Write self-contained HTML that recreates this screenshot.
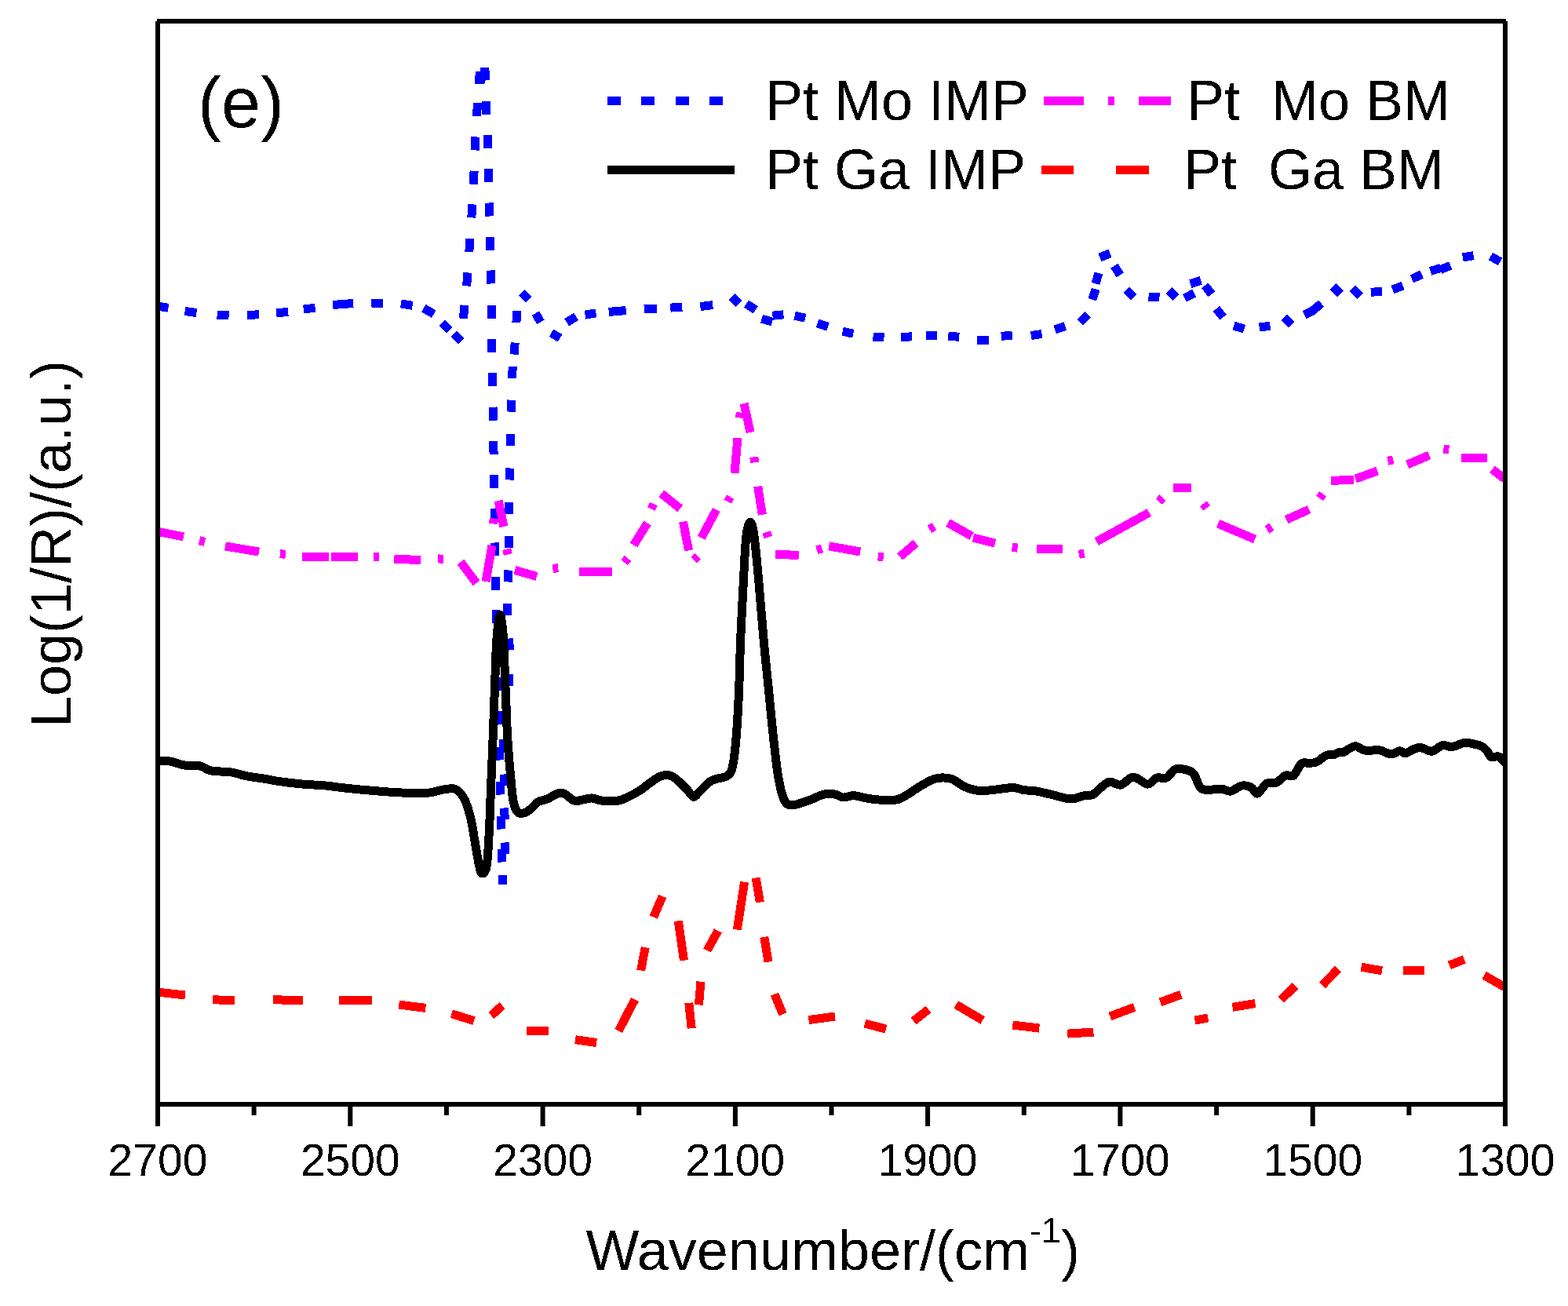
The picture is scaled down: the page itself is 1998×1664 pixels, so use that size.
<!DOCTYPE html>
<html><head><meta charset="utf-8"><title>Log(1/R) spectra</title>
<style>html,body{margin:0;padding:0;background:#fff;}body{width:1998px;height:1664px;overflow:hidden;}svg{display:block;}text{font-family:"Liberation Sans", Arial, sans-serif;fill:#000;}</style></head><body>
<svg width="1998" height="1664" viewBox="0 0 1998 1664">
<rect x="0" y="0" width="1998" height="1664" fill="#fff"/>
<defs><clipPath id="pc"><rect x="201" y="27" width="1716" height="1380"/></clipPath><filter id="bin" x="-2%" y="-10%" width="104%" height="120%"><feComponentTransfer><feFuncA type="discrete" tableValues="0 1"/></feComponentTransfer></filter></defs>
<g clip-path="url(#pc)" fill="none" stroke-linejoin="round" shape-rendering="crispEdges">
<path stroke="#0000ff" stroke-width="11" d="M199.6 389.8L214.4 392.4M235.6 396.5L250.4 398.5M276.6 401.2L291.6 401.8M315.2 401.4L330.2 400.8M352.1 398.9L367.1 397.3M386.8 394.1L401.6 392.1M424.2 388.5L450.2 386.5M473.4 386L488.4 386.2M510.9 386.9L525.7 389.3M539.8 392.7L552.8 400.1M563.4 411.5L572.6 420.7M578.5 425.5L587.7 434.7M590.4 405.9L592 388.9M594.6 364.4L596 347.4M597.8 321.1L599 304.1M600.8 277.4L601.8 260.4M603.3 234.7L604.1 217.7M605.2 191.4L606 174.4M607.5 148.2L608.5 131.2M619.3 128.8L619.9 145.8M621 172L621.6 189M622.3 215.3L622.7 232.3M623.5 258.5L623.9 275.5M624.2 301.7L624.6 318.7M625.1 344.5L625.5 361.5M626.1 388.8L626.3 405.8M626.5 431.7L626.7 448.7M627.1 474.8L627.5 491.8M628 518.6L628.4 535.6M628.7 561.9L629.1 578.9M629.7 605.1L629.9 622.1M630.1 647.9L630.3 664.9M630.8 691.5L631 708.5M631.5 734.8L631.7 751.8M632 777.1L632.4 794.1M633.3 820.5L633.7 837.5M634.3 863.5L634.7 880.5M635.3 906.5L635.7 923.5M636.6 951.5L637 968.5M637.6 995.5L638 1012.5M638.4 1039.5L638.6 1056.5M639.1 1081.5L639.3 1098.5M640.2 1115L640.2 1127M643.6 1088.5L643.4 1073.5M643.1 1044.5L642.9 1029.5M642.4 1001.5L642.2 986.5M641.4 957.5L641.8 942.5M644.4 913.5L645.6 898.5M648.1 873.5L648.9 858.5M649.2 828.5L648.8 813.5M646.8 784.2L646.6 769.2M647.2 741.5L647.4 726.5M648.1 697.9L648.3 682.9M648.3 654.6L648.5 639.6M649.6 611.5L650 596.5M650.5 567.9L650.9 552.9M651.4 524.6L651.8 509.6M652.5 481.9L653.3 466.9M655 451.6L656.2 436.6M657.9 410.9L658.9 395.9M664.7 372.9L673.9 382.1M682.4 399.1L688.9 410.3M702.5 424.2L713.7 430.8M722.1 410.8L734.1 403.4M745.6 401.2L759.4 398.8M775.7 397.4L797.7 395.6M820.8 394L836.8 393M854.3 392.1L869.3 391.3M892.4 390.6L908.2 388.6M932.3 377.8L941.5 387M951 387.2L962.8 394.8M970.6 406.1L984 410.1M984.4 402.2L998.4 400.8M1012.6 402.2L1026.2 405.2M1041.7 411.9L1055.1 416.3M1073.7 422.2L1087.3 425.2M1112.5 429L1126.5 430M1148.2 429.3L1162.2 428.9M1180.2 427.5L1194.2 427.5M1208.2 428L1222.2 429.4M1244.8 433.8L1259.8 433.6M1275.9 428.4L1289.9 427M1313.8 427.5L1327.6 425.5M1344.2 420L1357.4 415.4M1376.4 410.6L1386.4 400.8M1391.8 381.8L1396.2 368.4M1396.1 361.4L1399.9 348M1401.5 328L1414.5 322.8M1419.8 338.7L1427.4 350.5M1435.4 369.5L1444.6 378.7M1463.5 378.6L1477.5 378.8M1489.5 369.9L1498.7 379.1M1509.3 379.9L1521.7 373.5M1516.8 361.6L1530.2 357.4M1535.3 363.8L1543.9 374.8M1549.8 393.3L1558.6 404.1M1572.1 415.1L1585.5 419.1M1604.7 417L1618.5 415.2M1636.3 404.5L1645.5 413.7M1662 401.1L1674.6 395.1M1672.9 395.5L1683.7 386.7M1698.7 365.1L1707.9 374.3M1723.4 367.2L1733.2 377M1747 372.4L1761 371M1774.4 369L1787.6 364M1799 355.5L1811.6 349.5M1822.6 345.5L1836 341.3M1835.4 343.6L1848.4 338.4M1863.9 328L1877.7 325.6M1899.4 326.5L1911.6 333.5"/>
<path fill="#0000ff" stroke="none" d="M612 86H623L623.8 92V102H619L617.5 106.5H605V101L606 91H612Z"/>
<path stroke="#ff00ff" stroke-width="11" d="M200 677L234 684M254.1 688.8L260.9 690.4M287 696L330 703M356.9 705.6L363.9 706.4M385.2 709.7L419.2 710M422.2 709.5L456.3 710M475.8 709.5L482.8 709.9M502.3 712L536.3 713.7M557.9 711.9L564.9 712.3M587 716L607 743M619 741L627 695M628.5 667.5L629.5 660.5M635 638L642 671M645.6 699.6L647.4 706.4M656 726.5L684 734.5M704.3 724.5L711.3 723.7M737.8 728L780.2 728M795.6 716.7L800 711.3M807.4 694.5L825 666.5M829.9 648.5L832.9 642.1M842.7 628.8L866.7 648M870.4 664.6L877.6 701.4M884.4 713.5L889.4 708.5M893.6 685.4L912.9 649.4M927.3 639.2L930.5 633M936 602.9L940 558.1M942.4 532.4L943.6 525.6M948 514L956.1 550.9M960.7 582.3L961.7 589.3M965.7 619.7L971.3 655.8M976.6 678.1L978.8 684.7M988.1 706.2L1017.7 707.5M1040.9 700.8L1047.5 698.8M1056.2 695.8L1096.2 703M1118.8 709L1125.8 709.8M1146.7 709.4L1167 692M1184.4 674.4L1190.4 670.6M1208 666.1L1238.1 683.1M1240.1 685.1L1268.1 692.1M1289.6 697.2L1296.6 698.2M1321.2 699.1L1353.8 699.1M1374.8 706.4L1381.6 705M1397.2 690.1L1464.3 653.1M1476.9 639L1481.7 634M1495.3 621L1518.4 621M1533.3 641.7L1537.5 647.3M1552 667.1L1599.1 687.1M1614.5 675L1620.5 671.2M1639.1 662.1L1668.1 649.1M1681.5 634.9L1685.7 629.3M1696.2 612.5L1725.2 611.1M1727.2 610.1L1755.2 600M1768.4 587.3L1775.2 585.9M1793.3 592L1821.3 580M1839.4 572.1L1846.4 572.7M1862.3 583.4L1895.4 583.4M1901.4 598L1917.4 610.1"/>
<path stroke="#000" stroke-width="11" stroke-linecap="round" d="M201 969C203.7 969.2 211.3 969 217 970C222.7 971 228.7 974 235 975C241.3 976 249.3 974.8 255 976C260.7 977.2 262.3 980.7 269 982C275.7 983.3 287.3 982.8 295 984C302.7 985.2 307.7 987.6 315 989C322.3 990.4 332.3 991.4 339 992.5C345.7 993.6 347.3 994.4 355 995.5C362.7 996.6 375 998.1 385 999C395 999.9 406.7 1000.2 415 1001C423.3 1001.8 427.7 1002.7 435 1003.5C442.3 1004.3 449 1005.1 459 1006C469 1006.9 484 1008.2 495 1009C506 1009.8 516.3 1010.3 525 1010.5C533.7 1010.7 540.3 1010.8 547 1010C553.7 1009.2 559.8 1006.8 565 1006C570.2 1005.2 574.8 1004.2 578.5 1005C582.2 1005.8 584.5 1008.2 587 1011C589.5 1013.8 591.4 1016.7 593.5 1022C595.6 1027.3 597.9 1034.5 599.9 1043C601.9 1051.5 603.4 1063 605.2 1073C607 1083 609.1 1096.3 610.6 1103C612.1 1109.7 612.8 1113 614.4 1113C616 1113 618.7 1112.2 620.2 1103C621.7 1093.8 622.5 1074.3 623.4 1058C624.3 1041.7 624.7 1024.5 625.5 1005C626.3 985.5 627.2 964.2 628.1 941C629 917.8 630 887.3 630.8 866C631.6 844.7 631.9 826.8 633 813C634.1 799.2 635.8 783.5 637.2 783.5C638.6 783.5 640.4 799.2 641.5 813C642.6 826.8 642.7 844.7 643.6 866C644.5 887.3 645.5 919.7 646.8 941C648 962.3 649.9 980.5 651.1 994C652.4 1007.5 652.9 1015.2 654.3 1022C655.7 1028.8 657.3 1032.4 659.6 1034.7C661.9 1037 665.4 1036.4 668.2 1035.7C671.1 1035 673.9 1032.7 676.7 1030.4C679.6 1028.1 681.8 1024 685.3 1021.9C688.8 1019.8 693.8 1019.5 698 1017.7C702.2 1015.9 707.3 1012 710.8 1010.9C714.3 1009.8 715.3 1009.7 718.8 1011.2C722.3 1012.7 727.9 1018.8 731.6 1020.1C735.3 1021.5 737.5 1019.8 741.2 1019.3C744.9 1018.8 749.7 1016.8 754 1016.9C758.3 1017 761.3 1019.6 766.9 1020.1C772.5 1020.6 781.8 1021 787.7 1020.1C793.6 1019.2 797.3 1016.8 802.1 1014.5C806.9 1012.2 812 1009.4 816.5 1006.4C821 1003.4 825 999.7 829.3 996.8C833.6 993.9 837.8 990.2 842.1 988.8C846.4 987.4 851 987.2 855 988.5C859 989.8 862.7 993.8 866.2 996.8C869.7 999.8 872.9 1003.3 875.8 1006.4C878.7 1009.5 881.1 1015 883.8 1015.3C886.5 1015.6 888.3 1011.2 891.8 1008C895.3 1004.8 900.9 998.7 904.6 996C908.3 993.3 910.6 993.2 914.2 992C917.8 990.8 923 991.2 926.1 988.9C929.2 986.6 931.2 985.9 933.1 978.3C935 970.7 936.4 958.8 937.8 943.2C939.2 927.6 940.4 906 941.4 884.5C942.4 863 942.7 837.7 943.7 814.2C944.7 790.8 946 765.3 947.2 743.8C948.4 722.3 949.2 698.3 950.7 685.2C952.2 672.1 954.3 665.2 956.1 665.2C957.9 665.2 959.5 672.1 961.3 685.2C963.1 698.3 965.1 722.3 967.1 743.8C969.1 765.3 970.9 790.8 973 814.2C975.1 837.7 977.9 863 980 884.5C982.1 906 983.9 925.6 985.9 943.2C987.9 960.8 989.6 977.6 991.8 990.1C993.9 1002.6 996.1 1012.2 998.8 1018.2C1001.5 1024.2 1003 1025.7 1008.2 1026C1013.4 1026.3 1023 1022.3 1030 1020C1037 1017.7 1044.3 1013.3 1050 1012C1055.7 1010.7 1060 1011.3 1064 1012C1068 1012.7 1070 1015.7 1074 1016C1078 1016.3 1083 1013.5 1088 1013.7C1093 1013.9 1098.7 1016.1 1104 1017C1109.3 1017.9 1114 1018.6 1120 1019C1126 1019.4 1134.7 1020.2 1140 1019.5C1145.3 1018.8 1146.6 1017.9 1152 1015C1157.4 1012.1 1165.5 1005.8 1172.2 1002C1178.9 998.2 1185.5 993.6 1192.2 992C1198.9 990.4 1206.2 990.7 1212.2 992.4C1218.2 994.1 1222.9 999.6 1228.2 1002C1233.5 1004.4 1238.9 1006.2 1244.2 1007C1249.5 1007.8 1255 1007.3 1260.3 1007C1265.6 1006.7 1271 1005.6 1276.3 1005C1281.6 1004.4 1287.6 1003.3 1292.3 1003.6C1297 1003.9 1299.6 1005.9 1304.3 1006.6C1309 1007.3 1314.3 1007 1320.3 1008C1326.3 1009 1332.9 1010.8 1340.3 1012.5C1347.7 1014.2 1357.7 1017.8 1364.4 1018C1371.1 1018.2 1375.7 1014.9 1380.4 1014C1385.1 1013.1 1388.8 1014.1 1392.4 1012.5C1396 1010.9 1398.4 1006.8 1402 1004.1C1405.6 1001.4 1409.7 996.8 1414 996.1C1418.3 995.4 1423 1001.1 1428 1000.1C1433 999.1 1438.4 990.3 1444.1 990.1C1449.8 989.9 1457.1 998.9 1462.1 999.1C1467.1 999.3 1470.1 992.4 1474.1 991.1C1478.1 989.8 1482.1 993 1486.1 991.1C1490.1 989.2 1493.8 981.7 1498.1 980C1502.4 978.3 1508.3 980 1512.1 981C1515.9 982 1518.1 982.1 1521.1 986C1524.1 989.9 1526.6 1000.8 1530.1 1004.1C1533.6 1007.5 1537.8 1005.9 1542.2 1006.1C1546.6 1006.3 1551.9 1004.8 1556.2 1005.1C1560.5 1005.4 1563.9 1008.8 1568.2 1008.1C1572.5 1007.4 1577.9 1001.9 1582.2 1001.1C1586.5 1000.3 1590.9 1001.4 1594.2 1003.1C1597.5 1004.8 1598.9 1011.9 1602.2 1011.1C1605.5 1010.3 1610.2 1000.4 1614.2 998.1C1618.2 995.8 1622.2 998.8 1626.2 997.1C1630.2 995.4 1634.5 989.6 1638.2 988.1C1641.9 986.6 1645 990.6 1648.3 988.1C1651.6 985.6 1655.2 975.6 1658.3 973C1661.4 970.4 1664.2 972.4 1667 972.2C1669.8 972 1672.8 972.2 1675 971.8C1677.2 971.3 1677.8 970.9 1680 969.5C1682.2 968.1 1685.7 964.8 1688 963.5C1690.3 962.2 1692 961.8 1694 961.5C1696 961.2 1698 962 1700 961.5C1702 961 1704 959 1706 958.5C1708 958 1710 959.2 1712 958.5C1714 957.8 1715.4 955.8 1718 954.5C1720.6 953.2 1724.5 950.7 1727.5 950.8C1730.5 950.9 1733.6 954.1 1736 955C1738.4 955.9 1738.3 956.1 1742 956.3C1745.7 956.5 1753.3 955.2 1758.4 956C1763.5 956.8 1768.2 960.9 1772.4 961C1776.6 961.1 1780.5 957 1783.6 956.8C1786.7 956.6 1787.5 960.1 1790.8 959.6C1794.1 959.1 1800.1 954.7 1803.6 953.6C1807.1 952.5 1808.1 952.2 1811.6 952.8C1815.1 953.4 1820.1 957.7 1824.5 957.2C1828.9 956.7 1833.8 950.5 1838.1 949.6C1842.4 948.7 1845.4 952.1 1850.1 951.6C1854.8 951.1 1861.4 947 1866.1 946.4C1870.8 945.8 1874.4 947.2 1878.1 948C1881.8 948.8 1885.7 949.7 1888.5 951.2C1891.3 952.7 1893 954.6 1894.9 956.8C1896.8 959 1897.8 963.2 1899.7 964.4C1901.6 965.6 1904.2 964 1906.1 964C1908 964 1909.1 963.2 1910.9 964.4C1912.7 965.6 1916 969.9 1917 971"/>
<path stroke="#ff0000" stroke-width="11" d="M200 1264L236 1268M271.1 1273.6L299.1 1275M348.2 1273.6L386.2 1275M432.2 1275L473.9 1274.4M508.3 1280L542.3 1284.4M575.4 1291.7L604 1300.6M626 1294L640 1281M670.5 1313.4L698.5 1313.4M733 1324.6L760.2 1328.6M788.2 1313.4L809 1273.4M816.6 1236.5L822.2 1207.2M832.7 1168.5L844.2 1142M864.3 1173.3L871.5 1223.7M877.8 1277.8L881.2 1310.2M890.4 1280.4L893 1250.7M901 1211L914.9 1185.9M939.3 1184.6L948.6 1123.8M963.1 1118.5L968.4 1149.6M973.7 1193.9L979 1225.6M986.9 1266.6L997.5 1292.3M1030.5 1299.6L1064 1295M1102.1 1304.1L1129.1 1311.1M1164.1 1301L1183.1 1286M1218.2 1280L1252.2 1300M1290.3 1306L1324.3 1310.1M1360.3 1317.1L1393.4 1315.1M1414.4 1295L1445.6 1283.3M1478.5 1276.9L1504.9 1267.3M1522.5 1300.1L1539.3 1296.9M1570.5 1283.3L1599.4 1278.5M1632.2 1273.7L1650.6 1256.1M1685.1 1255.3L1705.1 1234.4M1734.5 1232.2L1761 1236.8M1788.1 1236.5L1814.9 1236.5M1846.8 1229.9L1865.8 1222.4M1891.1 1242.6L1917 1257.6"/>
</g>
<g fill="#000">
<rect x="200" y="24" width="1719" height="6"/>
<rect x="198" y="27" width="6" height="1408"/>
<rect x="1915" y="27" width="6" height="1408"/>
<rect x="198" y="1404" width="1723" height="6"/>
<rect x="198" y="1407" width="6" height="28"/>
<rect x="320.6" y="1407" width="6" height="14"/>
<rect x="443.3" y="1407" width="6" height="28"/>
<rect x="565.9" y="1407" width="6" height="14"/>
<rect x="688.6" y="1407" width="6" height="28"/>
<rect x="811.2" y="1407" width="6" height="14"/>
<rect x="933.9" y="1407" width="6" height="28"/>
<rect x="1056.5" y="1407" width="6" height="14"/>
<rect x="1179.1" y="1407" width="6" height="28"/>
<rect x="1301.8" y="1407" width="6" height="14"/>
<rect x="1424.4" y="1407" width="6" height="28"/>
<rect x="1547.1" y="1407" width="6" height="14"/>
<rect x="1669.7" y="1407" width="6" height="28"/>
<rect x="1792.4" y="1407" width="6" height="14"/>
<rect x="1915" y="1407" width="6" height="28"/>
</g>
<path stroke="#0000ff" stroke-width="11" fill="none" d="M774 128.5h17M817 128.5h17M861 128.5h17M904 128.5h17"/>
<path stroke="#000" stroke-width="11" fill="none" d="M774 216.5h162"/>
<path stroke="#ff00ff" stroke-width="11" fill="none" d="M1330 128.5h51M1412 128.5h8M1451 128.5h41"/>
<path stroke="#ff0000" stroke-width="11" fill="none" d="M1327 216.5h41M1422 216.5h42"/>
<g filter="url(#bin)">
<g font-size="57" text-anchor="middle">
<text x="201" y="1498">2700</text>
<text x="446.3" y="1498">2500</text>
<text x="691.6" y="1498">2300</text>
<text x="936.9" y="1498">2100</text>
<text x="1182.1" y="1498">1900</text>
<text x="1427.4" y="1498">1700</text>
<text x="1672.7" y="1498">1500</text>
<text x="1918" y="1498">1300</text>
</g>
<text x="746.5" y="1618" font-size="72">Wavenumber/(cm<tspan font-size="45" dy="-35">-1</tspan><tspan dy="35">)</tspan></text>
<text transform="translate(90 693) rotate(-90)" font-size="72" text-anchor="middle">Log(1/R)/(a.u.)</text>
<text x="252" y="162" font-size="90">(e)</text>
<g font-size="72" style="white-space:pre">
<text x="975" y="153">Pt Mo IMP</text>
<text x="975" y="241">Pt Ga IMP</text>
<text x="1512" y="153">Pt&#160; Mo BM</text>
<text x="1508" y="241">Pt&#160; Ga BM</text>
</g>
</g>
</svg></body></html>
